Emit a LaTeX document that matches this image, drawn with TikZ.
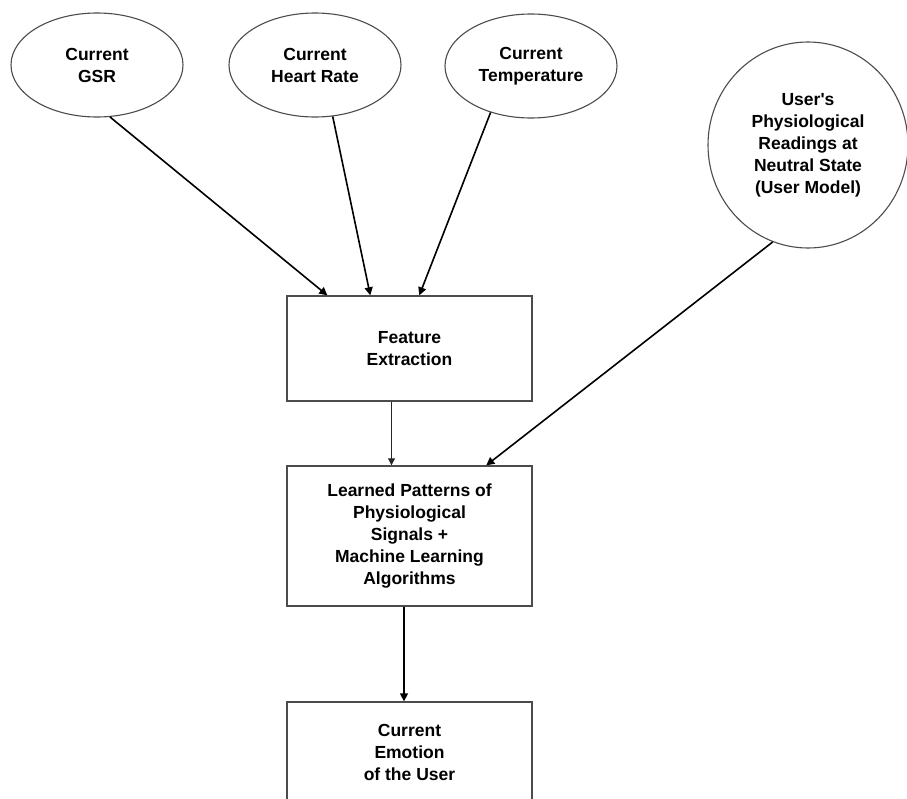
\documentclass[tikz,border=0pt]{standalone}
\usepackage{fontspec}
\setmainfont{Liberation Sans}
\usetikzlibrary{arrows.meta,shapes.geometric}
\begin{document}
\begin{tikzpicture}[x=1pt,y=-1pt,
  txt/.style={font=\bfseries\fontsize{17.5}{22}\selectfont, align=center, text=black},
  oval/.style={txt, ellipse, draw=black!70, line width=1.1pt, fill=white, inner sep=0pt},
  stepbox/.style={txt, rectangle, draw=black!70, line width=1.4pt, fill=white, minimum width=245pt, inner sep=0pt},
  flow/.style={draw=black, line width=1.6pt, -{Triangle[length=8pt,width=8pt]}},
  thinflow/.style={draw=black!85, line width=0.9pt, -{Triangle[length=7pt,width=7pt]}}]
\clip (0,0) rectangle (907,798);
\fill[white] (0,0) rectangle (907,798);

% sensor readings
\node[oval, minimum width=172pt, minimum height=104pt] (gsr)   at (97,65)  {Current\\GSR};
\node[oval, minimum width=172pt, minimum height=104pt] (heart) at (315,65) {Current\\Heart Rate};
\node[oval, minimum width=172pt, minimum height=104pt] (temp)  at (531,66) {Current\\Temperature};
\node[oval, minimum width=200pt, minimum height=206pt] (user)  at (808,145)
  {User\textquotesingle s\\Physiological\\Readings at\\Neutral State\\(User Model)};

% processing chain
\node[stepbox, minimum height=105pt] (feat)  at (409.5,348.5) {Feature\\Extraction};
\node[stepbox, minimum height=140pt] (learn) at (409.5,536)
  {Learned Patterns of\\Physiological\\Signals +\\Machine Learning\\Algorithms};
\node[stepbox, minimum height=100pt] (emo)   at (409.5,752) {Current\\Emotion\\of the User};

% connectors
\draw[flow] (gsr.-76)   -- ([xshift=41pt]feat.north west);
\draw[flow] (heart.-71) -- ([xshift=84pt]feat.north west);
\draw[flow] (temp.-131) -- ([xshift=133pt]feat.north west);
\draw[flow] (user.-110) -- ([xshift=200pt]learn.north west);
\draw[thinflow] ([xshift=-18pt]feat.south) -- ([xshift=-18pt]learn.north);
\draw[flow] ([xshift=-5.5pt]learn.south) -- ([xshift=-5.5pt]emo.north);
\end{tikzpicture}
\end{document}
